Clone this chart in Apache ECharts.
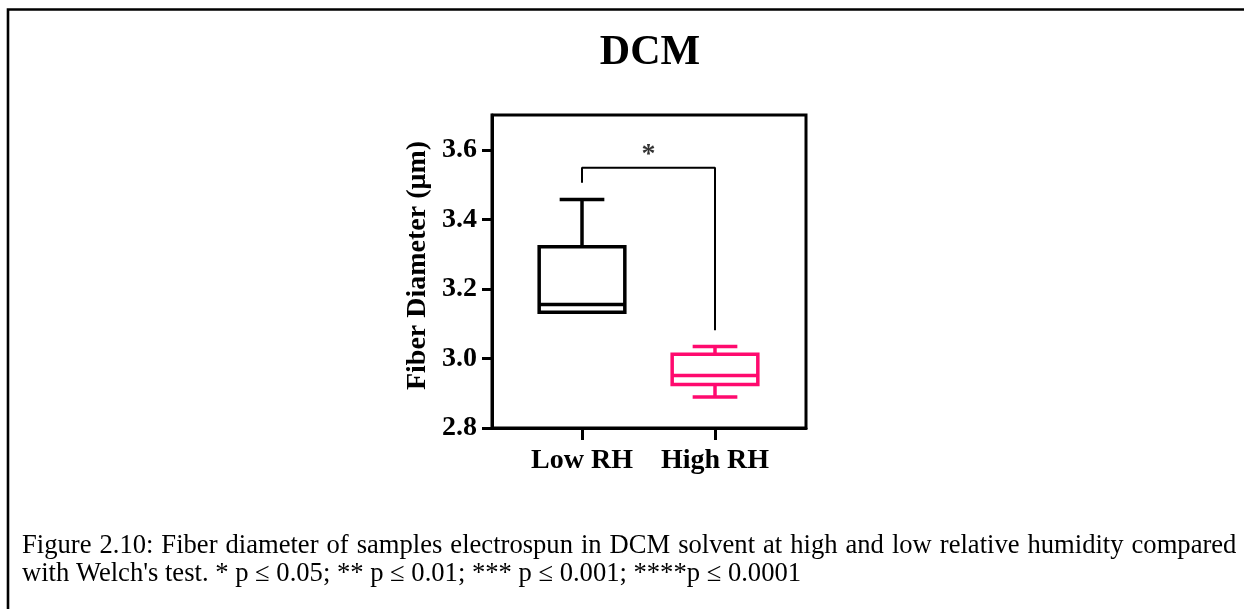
<!DOCTYPE html>
<html>
<head>
<meta charset="utf-8">
<script src="https://cdn.jsdelivr.net/npm/echarts@6/dist/echarts.min.js"></script>
<style>
  html, body { margin: 0; padding: 0; background: #fff; }
  #chart { width: 1244px; height: 609px; }
</style>
</head>
<body>
<div id="chart"></div>
<script>
// groups and box stats: [min, Q1, median, Q3, max]
const categories = ['Low RH', 'High RH'];
const lowRH = [3.133, 3.133, 3.155, 3.321, 3.457];
const highRH = [2.889, 2.925, 2.951, 3.012, 3.034];
const yTicks = [2.8, 3.0, 3.2, 3.4, 3.6];
const xTicks = [0, 1];

// significance bracket between the two groups
const bracketX = [0, 0, 1, 1];
const bracketY = [3.505, 3.548, 3.548, 3.081];
const starText = '*';
const starX = 0.5;
const starY = 3.595;

const titleText = 'DCM';
const yName = 'Fiber Diameter (μm)';
const captionLines = [
  'Figure 2.10: Fiber diameter of samples electrospun in DCM solvent at high and low relative humidity compared',
  "with Welch's test. * p ≤ 0.05; ** p ≤ 0.01; *** p ≤ 0.001; ****p ≤ 0.0001"
];

const boxColors = ['#000000', '#ff0a6e'];
const serif = "'Liberation Serif', 'Times New Roman', serif";
const capSize = 26.6;

const chart = echarts.init(document.getElementById('chart'), null, { renderer: 'canvas' });

const boxData = [lowRH, highRH].map((s, i) => [xTicks[i]].concat(s));

// first caption line is justified in the source document, so spaces are a bit wider
const justified = captionLines[0].split(' ').join('{s| }');

chart.setOption({
  backgroundColor: '#fff',
  animation: false,
  graphic: [
    {
      type: 'rect',
      shape: { x: 8, y: 9.5, width: 1400, height: 800 },
      style: { stroke: '#000', lineWidth: 2.6, fill: null },
      silent: true
    },
    {
      type: 'text',
      x: 650, y: 53,
      style: {
        text: titleText, fontFamily: serif, fontSize: 42, fontWeight: 'bold',
        fill: '#000', align: 'center', verticalAlign: 'middle'
      }
    },
    {
      type: 'text',
      x: 22, y: 546,
      style: {
        text: justified, fontFamily: serif, fontSize: capSize,
        fill: '#000', align: 'left', verticalAlign: 'middle',
        rich: { s: { width: 8, fontFamily: serif, fontSize: capSize } }
      }
    },
    {
      type: 'text',
      x: 22, y: 574.5,
      style: {
        text: captionLines[1], fontFamily: serif, fontSize: capSize,
        fill: '#000', align: 'left', verticalAlign: 'middle'
      }
    }
  ],
  grid: {
    left: 492, top: 115, width: 314, height: 313,
    show: true, borderColor: '#000', borderWidth: 3, backgroundColor: 'transparent'
  },
  xAxis: {
    type: 'value',
    min: -0.6767, max: 1.6842,
    splitLine: { show: false },
    axisLine: { show: true, onZero: false, lineStyle: { color: '#000', width: 3 } },
    axisTick: { show: true, customValues: xTicks, length: 12, lineStyle: { color: '#000', width: 3 } },
    axisLabel: {
      customValues: xTicks,
      formatter: v => categories[Math.round(v)],
      fontFamily: serif, fontSize: 28, fontWeight: 'bold', color: '#000', margin: 19
    }
  },
  yAxis: {
    type: 'value',
    min: 2.8, max: 3.7,
    name: yName,
    nameLocation: 'middle',
    nameGap: 60,
    nameTextStyle: {
      fontFamily: serif, fontSize: 28, fontWeight: 'bold', color: '#000',
      padding: [0, 0, 0, 12]
    },
    splitLine: { show: false },
    axisLine: { show: true, onZero: false, lineStyle: { color: '#000', width: 3 } },
    axisTick: { show: true, customValues: yTicks, length: 10, lineStyle: { color: '#000', width: 3 } },
    axisLabel: {
      customValues: yTicks,
      formatter: v => v.toFixed(1),
      fontFamily: serif, fontSize: 28, fontWeight: 'bold', color: '#000', margin: 15
    }
  },
  series: [
    {
      type: 'custom',
      data: boxData,
      encode: { x: 0, y: [1, 2, 3, 4, 5] },
      renderItem: (params, api) => {
        const i = api.value(0);
        const px = v => api.coord([i, v]);
        const x = px(api.value(3))[0];
        const yLo = px(api.value(1))[1];
        const q1 = px(api.value(2))[1];
        const med = px(api.value(3))[1];
        const q3 = px(api.value(4))[1];
        const yHi = px(api.value(5))[1];
        const band = api.size([1, 0])[0];
        const half = band * 0.322;
        const cap = band * 0.168;
        const color = boxColors[params.dataIndex];
        const st = { stroke: color, lineWidth: 3.5, fill: null };
        return {
          type: 'group',
          children: [
            { type: 'line', shape: { x1: x, y1: q3, x2: x, y2: yHi }, style: st },
            { type: 'line', shape: { x1: x, y1: q1, x2: x, y2: yLo }, style: st },
            { type: 'line', shape: { x1: x - cap, y1: yHi, x2: x + cap, y2: yHi }, style: st },
            { type: 'line', shape: { x1: x - cap, y1: yLo, x2: x + cap, y2: yLo }, style: st },
            { type: 'rect', shape: { x: x - half, y: q3, width: half * 2, height: q1 - q3 },
              style: { stroke: color, lineWidth: 3.5, fill: '#fff' } },
            { type: 'line', shape: { x1: x - half, y1: med, x2: x + half, y2: med }, style: st }
          ]
        };
      },
      silent: true,
      z: 3
    },
    {
      type: 'line',
      data: bracketX.map((x, i) => [x, bracketY[i]]),
      symbol: 'none',
      lineStyle: { color: '#000', width: 2 },
      silent: true,
      z: 2
    },
    {
      type: 'scatter',
      data: [[starX, starY]],
      symbolSize: 0,
      label: {
        show: true, position: 'inside', formatter: starText,
        fontFamily: serif, fontSize: 28, fontWeight: 'bold', color: '#000',
        offset: [0, 3]
      },
      silent: true
    }
  ]
});
</script>
</body>
</html>
